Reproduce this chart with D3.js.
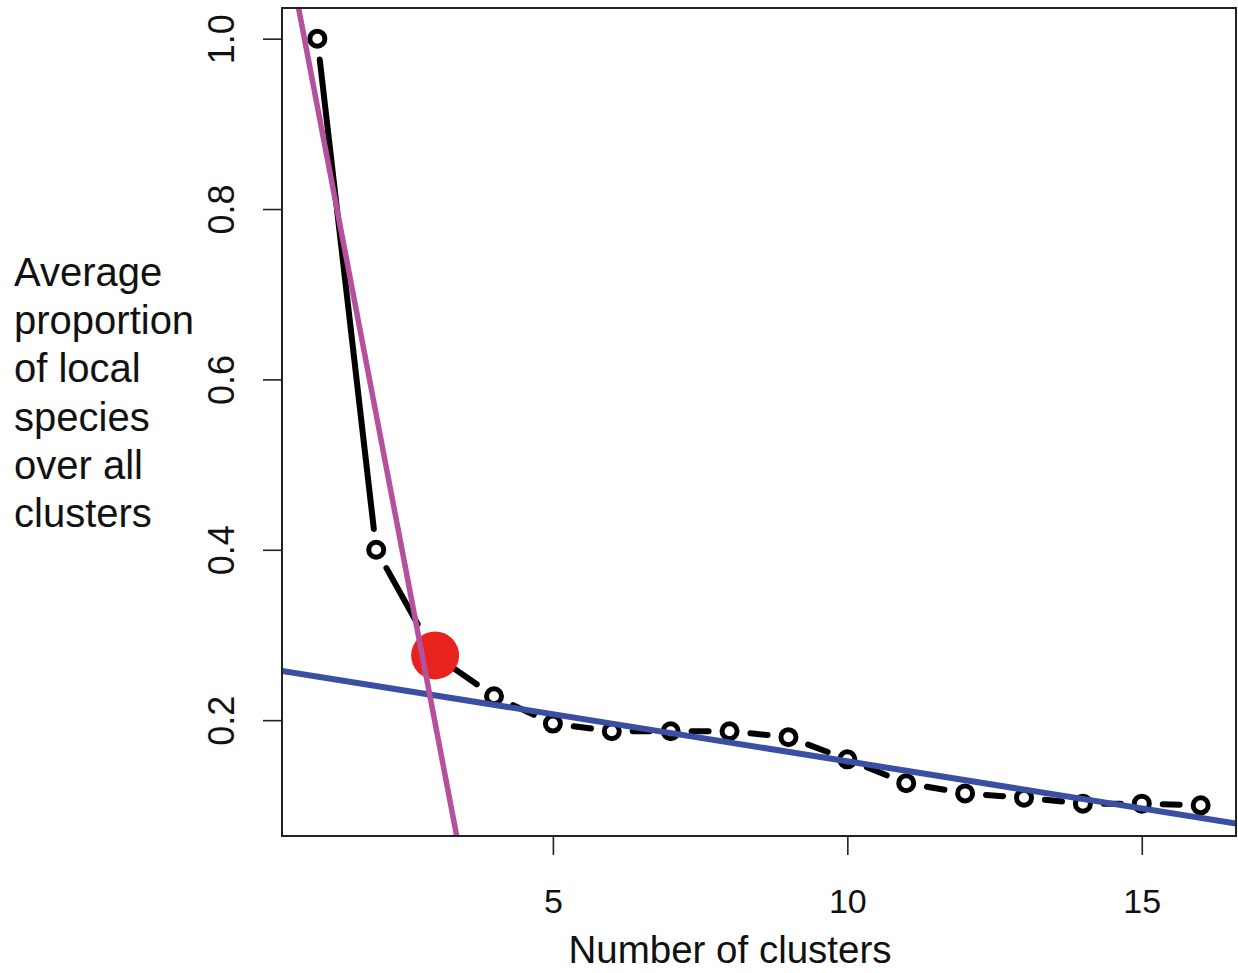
<!DOCTYPE html>
<html>
<head>
<meta charset="utf-8">
<script src="https://cdn.jsdelivr.net/npm/d3@7"></script>
<style>
  html, body { margin: 0; padding: 0; background: #ffffff; }
  svg { display: block; }
  text { font-family: "Liberation Sans", Arial, Helvetica, sans-serif; fill: #111; }
</style>
</head>
<body>
<svg id="chart" width="1238" height="973"></svg>
<script>
// ---- data ----
const clusters = [1, 2, 3, 4, 5, 6, 7, 8, 9, 10, 11, 12, 13, 14, 15, 16];
const proportion = [1.0, 0.40, 0.276, 0.228, 0.196, 0.187, 0.187, 0.187, 0.180, 0.154, 0.126, 0.114, 0.109, 0.102, 0.102, 0.100];
const elbowCluster = [3];
const steepFitClusters = [1, 2, 3];
const flatFitClusters = [4, 5, 6, 7, 8, 9, 10, 11, 12, 13, 14, 15, 16];
const xTicks = [5, 10, 15];
const yTicks = [0.2, 0.4, 0.6, 0.8, 1.0];
const yTickLabels = ["0.2", "0.4", "0.6", "0.8", "1.0"];
const yTitleLines = ["Average", "proportion", "of local", "species", "over all", "clusters"];
const xTitle = "Number of clusters";

// ---- layout ----
const svg = d3.select("#chart");
const L = 282, R = 1236, T = 8, B = 836;
const x = d3.scaleLinear().domain([0.4, 16.6]).range([L, R]);
const y = d3.scaleLinear().domain([0.064, 1.036]).range([B, T]);

const pts = clusters.map((c, i) => ({ c, v: proportion[i] }));

function fit(keys) {
  const p = pts.filter(d => keys.includes(d.c));
  const mx = d3.mean(p, d => d.c), my = d3.mean(p, d => d.v);
  const sxy = d3.sum(p, d => (d.c - mx) * (d.v - my));
  const sxx = d3.sum(p, d => (d.c - mx) ** 2);
  const b = sxy / sxx;
  return { b, a: my - b * mx };
}

svg.append("defs").append("clipPath").attr("id", "plotclip")
  .append("rect").attr("x", L).attr("y", T).attr("width", R - L).attr("height", B - T);

// ---- black connecting segments (type "b": gaps around points) ----
const gap = 21;
const segG = svg.append("g");
for (let i = 0; i < pts.length - 1; i++) {
  const x1 = x(pts[i].c), y1 = y(pts[i].v), x2 = x(pts[i + 1].c), y2 = y(pts[i + 1].v);
  const len = Math.hypot(x2 - x1, y2 - y1);
  const ux = (x2 - x1) / len, uy = (y2 - y1) / len;
  segG.append("line")
    .attr("x1", x1 + ux * gap).attr("y1", y1 + uy * gap)
    .attr("x2", x2 - ux * gap).attr("y2", y2 - uy * gap)
    .attr("stroke", "#000").attr("stroke-width", 6)
    .attr("stroke-linecap", "round")
    .attr("stroke-dasharray", i === 0 ? null : "64,26");
}

// ---- hollow points ----
svg.append("g").selectAll("circle").data(pts).join("circle")
  .attr("cx", d => x(d.c)).attr("cy", d => y(d.v)).attr("r", 7.5)
  .attr("fill", "#fff").attr("stroke", "#000").attr("stroke-width", 5);

// ---- elbow highlight ----
svg.append("g").selectAll("circle").data(pts.filter(d => elbowCluster.includes(d.c))).join("circle")
  .attr("cx", d => x(d.c)).attr("cy", d => y(d.v)).attr("r", 24)
  .attr("fill", "#e8231e");

// ---- fitted lines ----
const fitG = svg.append("g").attr("clip-path", "url(#plotclip)");
const f2 = fit(flatFitClusters);
fitG.append("line")
  .attr("x1", x(0.4)).attr("y1", y(f2.a + f2.b * 0.4))
  .attr("x2", x(16.6)).attr("y2", y(f2.a + f2.b * 16.6))
  .attr("stroke", "#3a4ea2").attr("stroke-width", 6);
const f1 = fit(steepFitClusters);
fitG.append("line")
  .attr("x1", x(0.4)).attr("y1", y(f1.a + f1.b * 0.4))
  .attr("x2", x(16.6)).attr("y2", y(f1.a + f1.b * 16.6))
  .attr("stroke", "#b5509f").attr("stroke-width", 5.5);

// ---- box ----
svg.append("rect").attr("x", L).attr("y", T).attr("width", R - L).attr("height", B - T)
  .attr("fill", "none").attr("stroke", "#222").attr("stroke-width", 2);

// ---- axes ----
const xAxis = svg.append("g").attr("transform", `translate(0,${B})`)
  .call(d3.axisBottom(x).tickValues(xTicks).tickSize(19).tickPadding(34).tickSizeOuter(0));
xAxis.select(".domain").remove();
xAxis.selectAll(".tick line").attr("stroke", "#222").attr("stroke-width", 1.6);
xAxis.selectAll(".tick text").attr("font-size", 34).attr("fill", "#111")
  .attr("font-family", "'Liberation Sans', Arial, sans-serif").attr("dy", "0.71em");

const yAxis = svg.append("g").attr("transform", `translate(${L},0)`)
  .call(d3.axisLeft(y).tickValues(yTicks).tickSize(19).tickSizeOuter(0).tickFormat((d, i) => yTickLabels[i]));
yAxis.select(".domain").remove();
yAxis.selectAll(".tick line").attr("stroke", "#222").attr("stroke-width", 1.6);
yAxis.selectAll(".tick text")
  .attr("x", null).attr("dy", null)
  .attr("text-anchor", "middle")
  .attr("transform", `translate(${234 - L},0) rotate(-90)`)
  .attr("font-size", 36).attr("fill", "#111")
  .attr("font-family", "'Liberation Sans', Arial, sans-serif");

// ---- titles ----
svg.append("text").attr("x", 730).attr("y", 963).attr("text-anchor", "middle")
  .attr("font-size", 38.5).text(xTitle);

svg.append("g").selectAll("text").data(yTitleLines).join("text")
  .attr("x", 14).attr("y", (d, i) => 286 + i * 48.2)
  .attr("font-size", 40).text(d => d);
</script>
</body>
</html>
